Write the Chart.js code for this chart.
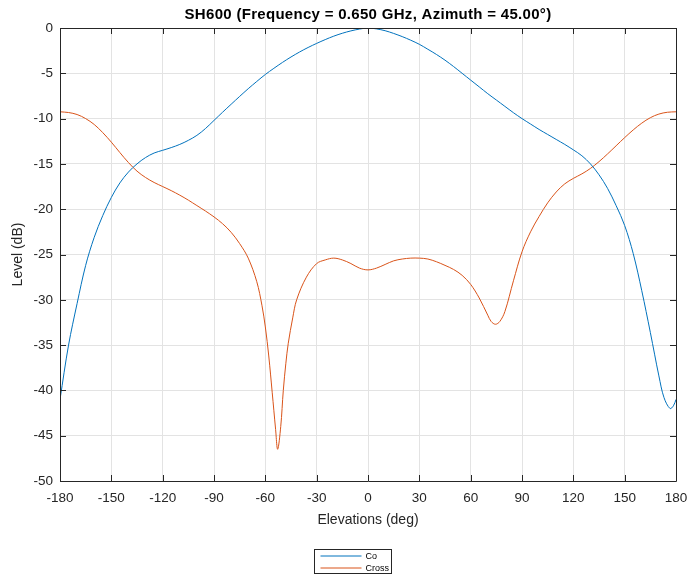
<!DOCTYPE html>
<html>
<head>
<meta charset="utf-8">
<script src="https://cdn.jsdelivr.net/npm/chart.js@4.4.1/dist/chart.umd.min.js"></script>
<style>
html,body{margin:0;padding:0;background:#fff;}
#wrap{position:relative;width:689px;height:577px;}
</style>
</head>
<body>
<div id="wrap"><canvas id="c" width="689" height="577"></canvas></div>
<script>
const chartTitle = 'SH600 (Frequency = 0.650 GHz, Azimuth = 45.00°)';
const xTitle = 'Elevations (deg)';
const yTitle = 'Level (dB)';
const seriesNames = ['Co', 'Cross'];

const coElev = [-180,-175,-170,-165,-160,-155,-150,-145,-140,-135,-130,-125,-120,-115,-110,-105,-100,-95,-90,-85,-80,-75,-70,-65,-60,-55,-50,-45,-40,-35,-30,-25,-20,-15,-10,-5,0,5,10,15,20,25,30,35,40,45,50,55,60,65,70,75,80,85,90,95,100,105,110,115,120,125,130,135,140,145,150,155,160,165,170,173,176.5,178.5,180];
const coLevel = [-41.0,-35.0,-30.4,-26.2,-23.1,-20.7,-18.7,-17.1,-15.9,-15.0,-14.3,-13.8,-13.5,-13.2,-12.85,-12.4,-11.85,-11.1,-10.2,-9.3,-8.42,-7.55,-6.7,-5.9,-5.13,-4.45,-3.8,-3.2,-2.65,-2.15,-1.7,-1.28,-0.9,-0.58,-0.32,-0.12,0,-0.1,-0.3,-0.6,-0.95,-1.35,-1.8,-2.35,-2.92,-3.55,-4.25,-5.0,-5.75,-6.5,-7.25,-7.95,-8.65,-9.35,-10.0,-10.6,-11.2,-11.75,-12.3,-12.85,-13.45,-14.1,-15.0,-16.2,-17.7,-19.6,-21.8,-24.9,-29.0,-33.6,-38.4,-40.8,-42.0,-41.7,-41.0];

const crossElev = [-180,-175,-170,-165,-160,-155,-150,-145,-140,-135,-130,-125,-120,-115,-110,-105,-100,-95,-90,-85,-80,-75,-70,-65,-62,-60,-58,-56,-54,-52.8,-51,-49.5,-48,-46.6,-44,-41.7,-36,-30,-25,-20,-15,-10,-5,0,5,10,15,20,25,30,35,40,45,50,55,60,65,70,72,74.5,77,80,85,90,95,100,105,110,115,120,125,130,135,140,145,150,155,160,165,170,175,180];
const crossLevel = [-9.25,-9.33,-9.55,-10.0,-10.65,-11.55,-12.6,-13.75,-14.85,-15.8,-16.5,-17.05,-17.5,-17.95,-18.45,-19.0,-19.6,-20.2,-20.85,-21.6,-22.55,-23.8,-25.4,-28.0,-30.6,-33.0,-36.2,-40.2,-44.3,-46.5,-44.0,-40.0,-37.0,-34.8,-32.0,-30.0,-27.5,-26.0,-25.6,-25.4,-25.6,-26.0,-26.5,-26.7,-26.5,-26.1,-25.7,-25.5,-25.4,-25.4,-25.5,-25.8,-26.2,-26.65,-27.3,-28.3,-29.8,-31.7,-32.4,-32.7,-32.4,-31.3,-27.9,-24.7,-22.5,-20.8,-19.3,-18.1,-17.2,-16.6,-16.1,-15.5,-14.75,-13.9,-13.0,-12.1,-11.25,-10.5,-9.9,-9.5,-9.3,-9.25];

const xTicks = [-180,-150,-120,-90,-60,-30,0,30,60,90,120,150,180];
const yTicks = [0,-5,-10,-15,-20,-25,-30,-35,-40,-45,-50];

const colors = ['#0072BD', '#D95319'];
const FONT = '"Liberation Sans", Arial, Helvetica, sans-serif';
const AX = '#262626';

function pts(xs, ys){ return xs.map((x,i)=>({x:x, y:ys[i]})); }

const deco = {
  id: 'deco',
  afterDraw(chart){
    const ctx = chart.ctx, a = chart.chartArea;
    const xs = chart.scales.x, ys = chart.scales.y;
    ctx.save();
    ctx.strokeStyle = AX; ctx.lineWidth = 1;
    ctx.beginPath();
    ctx.rect(Math.round(a.left)+0.5, Math.round(a.top)+0.5, Math.round(a.right-a.left), Math.round(a.bottom-a.top));
    ctx.stroke();
    ctx.beginPath();
    xTicks.forEach(v=>{
      const px = Math.round(xs.getPixelForValue(v))+0.5;
      ctx.moveTo(px, a.bottom); ctx.lineTo(px, a.bottom-6);
      ctx.moveTo(px, a.top); ctx.lineTo(px, a.top+6);
    });
    yTicks.forEach(v=>{
      const py = Math.round(ys.getPixelForValue(v))+0.5;
      ctx.moveTo(a.left, py); ctx.lineTo(a.left+6, py);
      ctx.moveTo(a.right, py); ctx.lineTo(a.right-6, py);
    });
    ctx.stroke();
    ctx.fillStyle = '#000';
    ctx.font = 'bold 15px ' + FONT;
    try { ctx.letterSpacing = '0.3px'; } catch(e) {}
    ctx.textAlign = 'center'; ctx.textBaseline = 'middle';
    ctx.fillText(chartTitle, (a.left+a.right)/2, 15);
    try { ctx.letterSpacing = '0px'; } catch(e) {}
    const bx = 314.5, by = 549.5, bw = 77, bh = 24;
    ctx.fillStyle = '#fff';
    ctx.fillRect(bx, by, bw, bh);
    ctx.strokeStyle = AX; ctx.lineWidth = 1;
    ctx.strokeRect(bx, by, bw, bh);
    ctx.font = '9px ' + FONT;
    ctx.textAlign = 'left';
    chart.data.datasets.forEach((d,i)=>{
      const ly = by + 6.5 + i*12;
      ctx.strokeStyle = d.borderColor; ctx.lineWidth = 1;
      ctx.beginPath(); ctx.moveTo(bx+6, ly); ctx.lineTo(bx+47, ly); ctx.stroke();
      ctx.fillStyle = '#000';
      ctx.fillText(d.label, bx+51, ly+0.5);
    });
    ctx.restore();
  }
};

new Chart(document.getElementById('c'), {
  type: 'line',
  data: {
    datasets: [
      {label: seriesNames[0], data: pts(coElev, coLevel), borderColor: colors[0], backgroundColor: colors[0], borderWidth: 1, pointRadius: 0, tension: 0.35, fill: false},
      {label: seriesNames[1], data: pts(crossElev, crossLevel), borderColor: colors[1], backgroundColor: colors[1], borderWidth: 1, pointRadius: 0, tension: 0.35, fill: false}
    ]
  },
  options: {
    responsive: false,
    animation: false,
    events: [],
    layout: {padding: {top: 28, right: 13, bottom: 44, left: 6}},
    plugins: {legend: {display: false}, title: {display: false}, tooltip: {enabled: false}},
    scales: {
      x: {
        type: 'linear', min: -180, max: 180,
        afterBuildTicks: s => { s.ticks = xTicks.map(v=>({value:v})); },
        afterFit: s => { s.height = 52; s.paddingLeft = 0; s.paddingRight = 0; },
        grid: {color: '#e3e3e3', lineWidth: 1, drawTicks: false},
        border: {display: false},
        ticks: {font: {size: 13.5, family: FONT}, color: AX, padding: 9, maxRotation: 0, autoSkip: false},
        title: {display: true, text: xTitle, font: {size: 14, family: FONT}, color: AX, padding: {top: 3}}
      },
      y: {
        type: 'linear', min: -50, max: 0,
        afterBuildTicks: s => { s.ticks = yTicks.map(v=>({value:v})); },
        afterFit: s => { s.width = 54; s.paddingTop = 0; s.paddingBottom = 0; },
        grid: {color: '#e3e3e3', lineWidth: 1, drawTicks: false},
        border: {display: false},
        ticks: {font: {size: 13.5, family: FONT}, color: AX, padding: 7},
        title: {display: true, text: yTitle, font: {size: 14, family: FONT}, color: AX, padding: {bottom: 4}}
      }
    }
  },
  plugins: [deco]
});
</script>
</body>
</html>
